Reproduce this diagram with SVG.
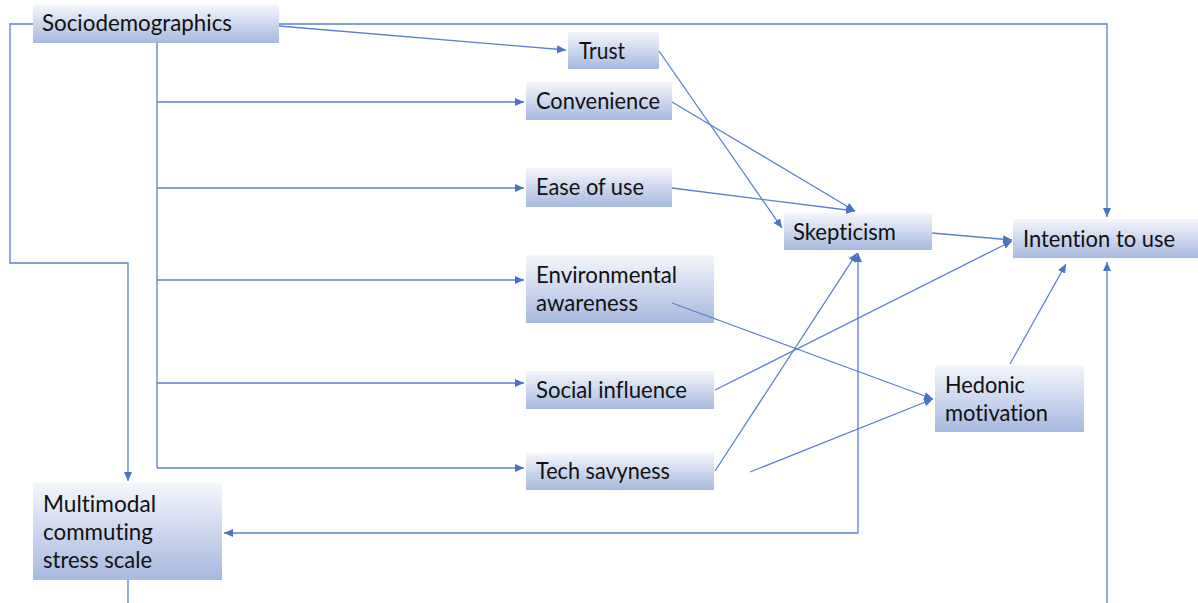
<svg xmlns="http://www.w3.org/2000/svg" width="1198" height="603" viewBox="0 0 1198 603">
  <defs>
    <linearGradient id="boxFill" x1="0" y1="0" x2="0" y2="1">
      <stop offset="0" stop-color="#f4f6fb"/>
      <stop offset="1" stop-color="#a6b9df"/>
    </linearGradient>
    <marker id="arrow" markerUnits="userSpaceOnUse" markerWidth="10" markerHeight="8" refX="9" refY="4" orient="auto">
      <path d="M0,0 L9,4 L0,8 z" fill="#4a72c6"/>
    </marker>
    <marker id="arrowStart" markerUnits="userSpaceOnUse" markerWidth="10" markerHeight="8" refX="0" refY="4" orient="auto">
      <path d="M9,0 L0,4 L9,8 z" fill="#4a72c6"/>
    </marker>
  </defs>
  <style>
    .box { fill: url(#boxFill); }
    .lbl { font-family: Lato, "Liberation Sans", sans-serif; font-size: 23px; fill: #111; font-variant-ligatures: none; }
    .conn { fill: none; stroke: #5b80d0; stroke-width: 1.3; }
  </style>
  <rect width="1198" height="603" fill="#ffffff"/>

  <g id="sociodemographics">
    <rect class="box" x="33" y="5" width="246" height="38"/>
    <text class="lbl" x="42" y="31" textLength="190" lengthAdjust="spacingAndGlyphs">Sociodemographics</text>
  </g>
  <g id="trust">
    <rect class="box" x="568" y="32" width="91" height="37"/>
    <text class="lbl" x="579" y="59" textLength="46" lengthAdjust="spacingAndGlyphs">Trust</text>
  </g>
  <g id="convenience">
    <rect class="box" x="526" y="82" width="146" height="38"/>
    <text class="lbl" x="536" y="109" textLength="124" lengthAdjust="spacingAndGlyphs">Convenience</text>
  </g>
  <g id="ease-of-use">
    <rect class="box" x="526" y="168" width="146" height="39"/>
    <text class="lbl" x="536" y="195" textLength="108" lengthAdjust="spacingAndGlyphs">Ease of use</text>
  </g>
  <g id="environmental-awareness">
    <rect class="box" x="526" y="255" width="188" height="68"/>
    <text class="lbl" x="536" y="283" textLength="141" lengthAdjust="spacingAndGlyphs">Environmental</text>
    <text class="lbl" x="536" y="311" textLength="102" lengthAdjust="spacingAndGlyphs">awareness</text>
  </g>
  <g id="social-influence">
    <rect class="box" x="526" y="371" width="188" height="38"/>
    <text class="lbl" x="536" y="398" textLength="151" lengthAdjust="spacingAndGlyphs">Social influence</text>
  </g>
  <g id="tech-savyness">
    <rect class="box" x="526" y="453" width="188" height="37"/>
    <text class="lbl" x="536" y="479" textLength="134" lengthAdjust="spacingAndGlyphs">Tech savyness</text>
  </g>
  <g id="skepticism">
    <rect class="box" x="784" y="213" width="148" height="37"/>
    <text class="lbl" x="793" y="240" textLength="103" lengthAdjust="spacingAndGlyphs">Skepticism</text>
  </g>
  <g id="intention-to-use">
    <rect class="box" x="1013" y="219" width="185" height="39"/>
    <text class="lbl" x="1023" y="247" textLength="152" lengthAdjust="spacingAndGlyphs">Intention to use</text>
  </g>
  <g id="hedonic-motivation">
    <rect class="box" x="935" y="365" width="149" height="67"/>
    <text class="lbl" x="945" y="393" textLength="80" lengthAdjust="spacingAndGlyphs">Hedonic</text>
    <text class="lbl" x="945" y="421" textLength="103" lengthAdjust="spacingAndGlyphs">motivation</text>
  </g>
  <g id="multimodal-commuting-stress-scale">
    <rect class="box" x="33" y="483" width="189" height="97"/>
    <text class="lbl" x="43" y="512" textLength="113" lengthAdjust="spacingAndGlyphs">Multimodal</text>
    <text class="lbl" x="43" y="540" textLength="110" lengthAdjust="spacingAndGlyphs">commuting</text>
    <text class="lbl" x="43" y="568" textLength="109" lengthAdjust="spacingAndGlyphs">stress scale</text>
  </g>

  <g id="connectors">
    <path class="conn" d="M33,24 H10 V263 H128 V481" marker-end="url(#arrow)"/>
    <path class="conn" d="M279,24 H1107 V217" marker-end="url(#arrow)"/>
    <path class="conn" d="M279,26 L566,50" marker-end="url(#arrow)"/>
    <path class="conn" d="M157,43 V468"/>
    <path class="conn" d="M157,102 H524" marker-end="url(#arrow)"/>
    <path class="conn" d="M157,188 H524" marker-end="url(#arrow)"/>
    <path class="conn" d="M157,280 H524" marker-end="url(#arrow)"/>
    <path class="conn" d="M157,383 H524" marker-end="url(#arrow)"/>
    <path class="conn" d="M157,468 H524" marker-end="url(#arrow)"/>
    <path class="conn" d="M659,51 L782,228" marker-end="url(#arrow)"/>
    <path class="conn" d="M672,102 L855,211" marker-end="url(#arrow)"/>
    <path class="conn" d="M672,188 L855,211" marker-end="url(#arrow)"/>
    <path class="conn" d="M932,233 L1012,240" marker-end="url(#arrow)"/>
    <path class="conn" d="M715,390 L1012,241" marker-end="url(#arrow)"/>
    <path class="conn" d="M715,471 L857,253" marker-end="url(#arrow)"/>
    <path class="conn" d="M750,472 L933,399" marker-end="url(#arrow)"/>
    <path class="conn" d="M672,303 L933,399" marker-end="url(#arrow)"/>
    <path class="conn" d="M1010,364 L1066,264" marker-end="url(#arrow)"/>
    <path class="conn" d="M1107,603 V262" marker-end="url(#arrow)"/>
    <path class="conn" d="M224,533 H858 V253" marker-start="url(#arrowStart)" marker-end="url(#arrow)"/>
    <path class="conn" d="M128,580 V603"/>
  </g>
</svg>
